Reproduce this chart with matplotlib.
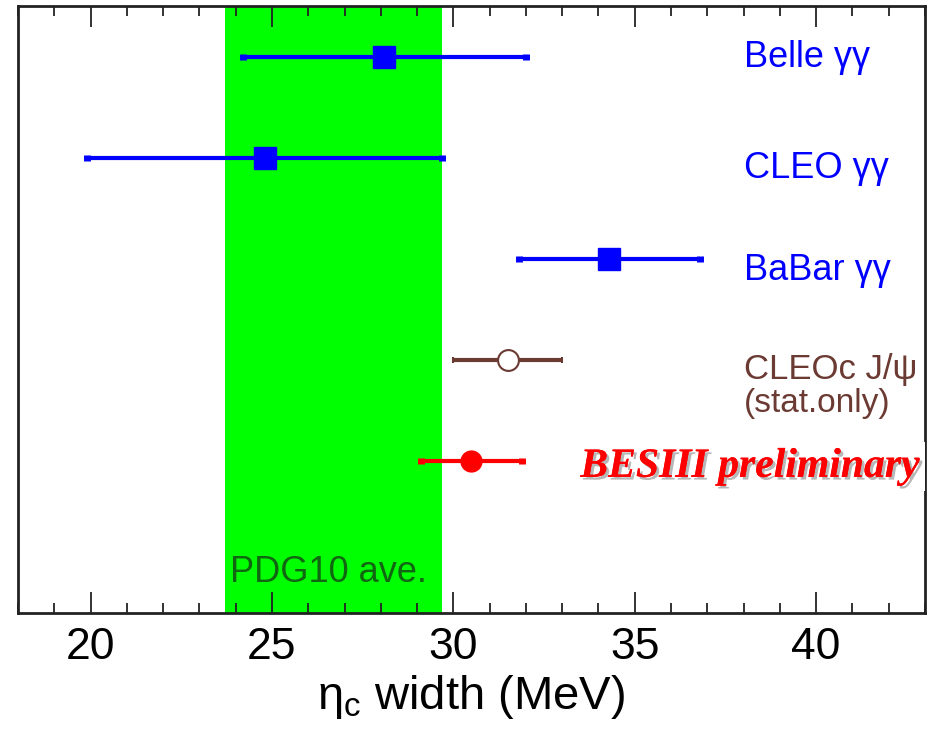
import matplotlib
matplotlib.use("Agg")
import matplotlib.pyplot as plt
import matplotlib.patheffects as pe
from matplotlib.ticker import MultipleLocator

# eta_c width measurements (MeV)
experiments = ["Belle", "CLEO", "BaBar", "CLEOc", "BESIII"]
widths = [28.1, 24.8, 34.3, 31.5, 30.5]
errors = [3.9, 4.9, 2.5, 1.5, 1.4]
ypos = [5.5, 4.5, 3.5, 2.5, 1.5]
labels = ["Belle γγ", "CLEO γγ", "BaBar γγ", "CLEOc J/ψ", "BESIII preliminary"]

pdg_avg = 26.7
pdg_err = 3.0

plt.rcParams["font.family"] = ["Liberation Sans", "DejaVu Sans"]
plt.rcParams["mathtext.fontset"] = "custom"
plt.rcParams["mathtext.rm"] = "Liberation Sans"
plt.rcParams["mathtext.it"] = "Liberation Sans"

fig = plt.figure(figsize=(9.31, 7.43), dpi=100)
ax = fig.add_axes([18 / 931, 130 / 743, 907 / 931, 607 / 743])

ax.axvspan(pdg_avg - pdg_err, pdg_avg + pdg_err, color="#00ff00", lw=0, zorder=0)
ax.text(23.85, 0.31, "PDG10 ave.", color="#116611", fontsize=26)

blue = "#0000ff"
brown = "#6b3a32"
red = "#ff0000"

for i in range(3):
    ax.errorbar(widths[i], ypos[i], xerr=errors[i], fmt="s", color=blue,
                ms=16, lw=3, capsize=2, capthick=5, zorder=3)
ax.errorbar(widths[3], ypos[3], xerr=errors[3], fmt="o", color=brown, mfc="white",
            mec=brown, mew=1.5, ms=15, lw=3, capsize=2, capthick=5, zorder=3)
ax.errorbar(widths[4], ypos[4], xerr=errors[4], fmt="o", color=red,
            ms=15, lw=3, capsize=2, capthick=5, zorder=3)

ax.text(38, 5.397, labels[0], color=blue, fontsize=26)
ax.text(38, 4.30, labels[1], color=blue, fontsize=26)
ax.text(38, 3.29, labels[2], color=blue, fontsize=26)
ax.text(38, 2.31, labels[3], color=brown, fontsize=25)
ax.text(38, 1.99, "(stat.only)", color=brown, fontsize=24)
ax.text(33.5, 1.346, labels[4], color=red, fontsize=30, family="Liberation Serif",
        weight="bold", style="italic",
        bbox=dict(facecolor="white", edgecolor="none", pad=4),
        path_effects=[pe.withSimplePatchShadow(offset=(2, -2), shadow_rgbFace="#999999", alpha=0.7),
                      pe.Normal()], zorder=5)

ax.set_xlim(18, 43)
ax.set_ylim(0, 6)
ax.set_yticks([])
ax.xaxis.set_major_locator(MultipleLocator(5))
ax.xaxis.set_minor_locator(MultipleLocator(1))
ax.tick_params(axis="x", which="both", direction="in", top=True, bottom=True, width=1.3,
               color="#222222")
ax.tick_params(axis="x", which="major", length=15, pad=10, labelsize=32)
ax.tick_params(axis="x", which="minor", length=7.5)
for sp in ax.spines.values():
    sp.set_linewidth(2)
    sp.set_color("#222222")

ax.set_xlabel(r"$\eta_c$ width (MeV)", fontsize=34, labelpad=4)

fig.savefig("out.png", dpi=100)
